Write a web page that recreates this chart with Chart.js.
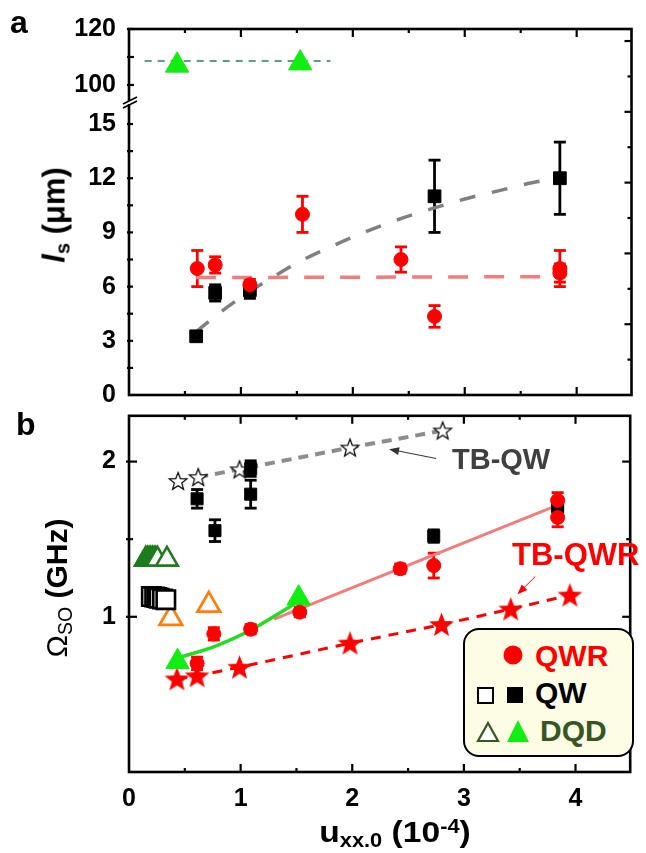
<!DOCTYPE html>
<html>
<head>
<meta charset="utf-8">
<title>l_s and Omega_SO vs u_xx,0</title>
<script src="https://cdn.jsdelivr.net/npm/chart.js@4.4.1/dist/chart.umd.min.js"></script>
<style>
  html, body { margin: 0; padding: 0; background: #fff; }
  #page { position: relative; width: 646px; height: 853px; overflow: hidden; font-family: "Liberation Sans", Arial, sans-serif; }
  canvas { position: absolute; left: 0; }
  #cA { top: 0; }
  #cB { top: 400px; }
  .t { position: absolute; font-weight: bold; white-space: nowrap; line-height: 1; }
  .t sub { font-size: 0.65em; line-height: 0; vertical-align: -0.25em; }
  .t sup { font-size: 0.65em; line-height: 0; vertical-align: 0.45em; }
  .rot { transform: translate(-50%, -50%) rotate(-90deg); }
  #legend { position: absolute; left: 463px; top: 628px; width: 171px; height: 129px; box-sizing: border-box;
            border: 2px solid #000; border-radius: 16px; background: #fdfde6; }
  #legSym { position: absolute; left: 463px; top: 628px; }
</style>
</head>
<body>
<div id="page">
  <canvas id="cA" width="646" height="420"></canvas>
  <canvas id="cB" width="646" height="453"></canvas>

  <div class="t" style="left:10px; top:6px; font-size:32px;">a</div>
  <div class="t" style="left:16px; top:408px; font-size:32px;">b</div>
  <div class="t rot" style="left:54px; top:215px; font-size:31px;"><i>l</i><sub>s</sub> (μm)</div>
  <div class="t rot" style="left:57px; top:588px; font-size:30px;"><span style="font-weight:normal">Ω<sub>SO</sub></span> (GHz)</div>
  <div class="t" style="left:395px; top:817px; font-size:30px; transform: translateX(-50%) scaleX(1.12);">u<sub>xx.0</sub> (10<sup>-4</sup>)</div>

  <div class="t" style="left:452px; top:445px; font-size:29px; color:#404040;">TB-QW</div>
  <div class="t" style="left:512px; top:539px; font-size:31px; color:#ff0000;">TB-QWR</div>

  <div id="legend"></div>
  <svg id="legSym" width="171" height="129">
    <circle cx="50" cy="27" r="9.5" fill="#ff0000"/>
    <rect x="15" y="60" width="15" height="15" fill="#fff" stroke="#000" stroke-width="2"/>
    <rect x="44" y="59" width="16" height="16" fill="#000"/>
    <polygon points="25,95 15,113 35,113" fill="#fff" stroke="#375623" stroke-width="2.2"/>
    <polygon points="55,92 44,114 66,114" fill="#11ee11"/>
  </svg>
  <div class="t" style="left:535px; top:641px; font-size:30px; color:#ff0000;">QWR</div>
  <div class="t" style="left:535px; top:678px; font-size:30px; color:#000;">QW</div>
  <div class="t" style="left:540px; top:716px; font-size:30px; color:#375623;">DQD</div>
</div>

<script>
// ---------- panel a : spin diffusion length l_s (um) ----------
var aQwrX   = [0.61, 0.77, 1.08, 1.55, 2.43, 2.73, 3.85, 3.85];
var aQwrY   = [7.0, 7.2, 6.1, 10.0, 7.5, 4.35, 7.0, 6.75];
var aQwrErr = [1.0, 0.45, 0.3, 1.0, 0.7, 0.6, 1.0, 0.5];

var aQwX    = [0.60, 0.77, 1.08, 2.73, 3.85];
var aQwY    = [3.25, 5.65, 5.8, 11.0, 12.0];
var aQwErr  = [0.2, 0.45, 0.45, 2.0, 2.0];

var aQwFitX = [0.6, 0.8, 1.0, 1.2, 1.5, 1.8, 2.1, 2.4, 2.7, 3.0, 3.3, 3.6, 3.85];
var aQwFitY = [3.5, 4.5, 5.4, 6.2, 7.3, 8.2, 9.0, 9.7, 10.3, 10.85, 11.3, 11.75, 12.05];

var aQwrFitX = [0.6, 3.85];
var aQwrFitY = [6.5, 6.55];

var aDqdX    = [0.43, 1.53];
var aDqdY    = [107.0, 107.8];
var aDqdFitX = [0.14, 1.8];
var aDqdFitY = [108.6, 108.6];

// ---------- panel b : Omega_SO (GHz) ----------
var bQwrX   = [0.61, 0.76, 1.09, 1.53, 2.43, 2.73, 3.84, 3.84];
var bQwrY   = [0.70, 0.89, 0.92, 1.03, 1.31, 1.33, 1.75, 1.64];
var bQwrErr = [0.04, 0.04, 0.03, 0.03, 0.03, 0.08, 0.05, 0.06];

var bQwX    = [0.61, 0.77, 1.09, 1.09, 2.73, 3.84];
var bQwY    = [1.76, 1.555, 1.955, 1.79, 1.52, 1.71];
var bQwErr  = [0.06, 0.07, 0.05, 0.09, 0.04, 0.04];

var bQwOpenX = [0.20, 0.23, 0.25, 0.27, 0.30, 0.33];
var bQwOpenY = [1.13, 1.128, 1.125, 1.12, 1.115, 1.11];

var bDqdX = [0.435, 1.52];
var bDqdY = [0.71, 1.12];

var bDqdOpenX = [0.15, 0.165, 0.18, 0.195, 0.21, 0.225, 0.24, 0.255, 0.34];
var bDqdOpenY = [1.37, 1.37, 1.37, 1.37, 1.37, 1.37, 1.37, 1.37, 1.37];

var bOrangeX = [0.375, 0.715];
var bOrangeY = [0.99, 1.075];

var bTbQwX = [0.44, 0.62, 0.99, 1.98, 2.81];
var bTbQwY = [1.875, 1.9, 1.95, 2.09, 2.2];
var bTbQwLineX = [0.62, 0.99, 1.98, 2.81];
var bTbQwLineY = [1.9, 1.95, 2.09, 2.2];

var bTbQwrX = [0.43, 0.61, 0.99, 1.98, 2.80, 3.42, 3.95];
var bTbQwrY = [0.60, 0.62, 0.675, 0.83, 0.95, 1.05, 1.14];

var bQwrFitX = [1.3, 3.84];
var bQwrFitY = [0.985, 1.72];

var bDqdFitX = [0.435, 0.77, 1.08, 1.43, 1.52];
var bDqdFitY = [0.735, 0.81, 0.91, 1.06, 1.10];

// ---------- axis ticks ----------
var xMarks  = [0, 0.5, 1, 1.5, 2, 2.5, 3, 3.5, 4];
var xLabels = [0, 1, 2, 3, 4];
var aTopMarks  = [100, 110, 120];
var aTopLabels = [100, 120];
var aBotMarks  = [0, 1.5, 3, 4.5, 6, 7.5, 9, 10.5, 12, 13.5, 15];
var aBotLabels = [0, 3, 6, 9, 12, 15];
var aRightMarks = [2, 4, 6, 8, 10, 12, 14, 16, 18, 20];
var bMarks  = [1, 1.5, 2];
var bLabels = [1, 2];

function pts(xs, ys) { return xs.map(function (x, i) { return {x: x, y: ys[i]}; }); }

var tickFont = {family: "'Liberation Sans', Arial, sans-serif", size: 25, weight: 'bold'};

function starCanvas(size, fill, stroke, lw) {
  var c = document.createElement('canvas');
  c.width = size; c.height = size;
  var g = c.getContext('2d');
  var R = size / 2 - lw - 0.5, r = R * 0.42, cx = size / 2, cy = size / 2 + R * 0.08;
  g.beginPath();
  for (var i = 0; i < 10; i++) {
    var a = -Math.PI / 2 + i * Math.PI / 5, rr = i % 2 ? r : R;
    g.lineTo(cx + rr * Math.cos(a), cy + rr * Math.sin(a));
  }
  g.closePath();
  g.fillStyle = fill; g.fill();
  if (stroke) { g.strokeStyle = stroke; g.lineWidth = lw; g.stroke(); }
  return c;
}
var starOpen = starCanvas(22, '#fff', '#000', 1.2);
var starRed = starCanvas(27, '#ff0000', null, 0);

function line(ctx, x1, y1, x2, y2) { ctx.beginPath(); ctx.moveTo(x1, y1); ctx.lineTo(x2, y2); ctx.stroke(); }

// error bars from dataset.errY, drawn under the markers
var errorBars = {
  id: 'errorBars',
  beforeDatasetsDraw: function (chart) {
    var ctx = chart.ctx;
    chart.data.datasets.forEach(function (ds, i) {
      if (!ds.errY) return;
      var meta = chart.getDatasetMeta(i);
      var ys = chart.scales[meta.yAxisID];
      ctx.save();
      ctx.strokeStyle = ds.backgroundColor;
      ctx.lineWidth = 2.8;
      meta.data.forEach(function (p, j) {
        var v = ds.data[j].y, e = ds.errY[j];
        var y1 = ys.getPixelForValue(v + e), y2 = ys.getPixelForValue(v - e);
        line(ctx, p.x, y1, p.x, y2);
        line(ctx, p.x - 6, y1, p.x + 6, y1);
        line(ctx, p.x - 6, y2, p.x + 6, y2);
      });
      ctx.restore();
    });
  }
};

function xTickMarks(ctx, chart) {
  var ca = chart.chartArea, sx = chart.scales.x;
  xMarks.forEach(function (v) {
    if (v === 0) return;
    var px = sx.getPixelForValue(v), L = (v % 1 === 0) ? 8 : 4;
    line(ctx, px, ca.top, px, ca.top + L);
    line(ctx, px, ca.bottom, px, ca.bottom - L);
  });
}

var frameA = {
  id: 'frameA',
  afterDraw: function (chart) {
    var ctx = chart.ctx, ca = chart.chartArea, s = chart.scales;
    ctx.save();
    ctx.strokeStyle = '#000';
    ctx.lineWidth = 2.6;
    ctx.strokeRect(ca.left, ca.top, ca.right - ca.left, ca.bottom - ca.top);
    ctx.lineWidth = 2.2;
    xTickMarks(ctx, chart);
    aTopMarks.forEach(function (v) {
      var py = s.yTop.getPixelForValue(v);
      line(ctx, ca.left - 2, py, ca.left + 5, py);
    });
    aBotMarks.forEach(function (v) {
      var py = s.yBot.getPixelForValue(v);
      if (v === 0) return;
      line(ctx, ca.left - 2, py, ca.left + 4, py);
    });
    aRightMarks.forEach(function (v) {
      var py = s.yR.getPixelForValue(v), L = (v % 4 === 0) ? 7 : 4;
      line(ctx, ca.right - L, py, ca.right, py);
    });
    // axis break between the two left scales
    var yb = s.yBot.top;
    ctx.fillStyle = '#fff';
    ctx.fillRect(ca.left - 3, yb + 1, 6, 3);
    ctx.lineWidth = 1.6;
    line(ctx, ca.left - 6, yb + 4, ca.left + 8, yb - 3);
    line(ctx, ca.left - 6, yb + 8, ca.left + 8, yb + 1);
    ctx.restore();
  }
};

// arrows for the TB labels, in data coordinates
var arrowsB = [
  {from: [2.75, 2.02], to: [2.33, 2.08], color: '#333333'},
  {from: [3.64, 1.26], to: [3.48, 1.145], color: '#ff0000'}
];

var frameB = {
  id: 'frameB',
  afterDraw: function (chart) {
    var ctx = chart.ctx, ca = chart.chartArea, s = chart.scales;
    ctx.save();
    ctx.strokeStyle = '#000';
    ctx.lineWidth = 2.6;
    ctx.strokeRect(ca.left, ca.top, ca.right - ca.left, ca.bottom - ca.top);
    ctx.lineWidth = 2.2;
    xTickMarks(ctx, chart);
    bMarks.forEach(function (v) {
      var py = s.y.getPixelForValue(v), L = bLabels.indexOf(v) >= 0 ? 8 : 4;
      line(ctx, ca.left - 3, py, ca.left + L, py);
      line(ctx, ca.right - L, py, ca.right, py);
    });
    arrowsB.forEach(function (a) {
      var x1 = s.x.getPixelForValue(a.from[0]), y1 = s.y.getPixelForValue(a.from[1]);
      var x2 = s.x.getPixelForValue(a.to[0]), y2 = s.y.getPixelForValue(a.to[1]);
      var ang = Math.atan2(y2 - y1, x2 - x1);
      ctx.strokeStyle = a.color; ctx.fillStyle = a.color; ctx.lineWidth = 1;
      line(ctx, x1, y1, x2 - 6 * Math.cos(ang), y2 - 6 * Math.sin(ang));
      ctx.beginPath();
      ctx.moveTo(x2, y2);
      ctx.lineTo(x2 - 10 * Math.cos(ang) + 4 * Math.sin(ang), y2 - 10 * Math.sin(ang) - 4 * Math.cos(ang));
      ctx.lineTo(x2 - 10 * Math.cos(ang) - 4 * Math.sin(ang), y2 - 10 * Math.sin(ang) + 4 * Math.cos(ang));
      ctx.closePath(); ctx.fill();
    });
    ctx.restore();
  }
};

function yLeft(marks, labels, extra) {
  var o = {
    position: 'left',
    afterBuildTicks: function (sc) { sc.ticks = marks.map(function (v) { return {value: v}; }); },
    afterFit: function (sc) { sc.width = 129; sc.paddingTop = 0; sc.paddingBottom = 0; },
    ticks: { autoSkip: false, font: tickFont, color: '#000', padding: 13,
             callback: function (v) { return labels.indexOf(v) >= 0 ? String(v) : ''; } },
    grid: { display: false, drawTicks: false },
    border: { display: false }
  };
  for (var k in extra) o[k] = extra[k];
  return o;
}

var common = {
  responsive: false,
  animation: false,
  devicePixelRatio: 1,
  plugins: { legend: { display: false }, tooltip: { enabled: false } }
};

// ---------- chart a ----------
new Chart(document.getElementById('cA'), {
  type: 'scatter',
  data: {
    datasets: [
      { data: pts(aQwrX, aQwrY), errY: aQwrErr, yAxisID: 'yBot', pointStyle: 'circle', pointRadius: 7,
        backgroundColor: '#ff0000', borderColor: '#ff0000', borderWidth: 1, order: 0 },
      { data: pts(aQwX, aQwY), errY: aQwErr, yAxisID: 'yBot', pointStyle: 'rect', pointRadius: 9,
        backgroundColor: '#000000', borderColor: '#000000', borderWidth: 1, order: 1 },
      { data: pts(aDqdX, aDqdY), yAxisID: 'yTop', pointStyle: 'triangle', pointRadius: 13.5,
        backgroundColor: '#11ee11', borderColor: '#11ee11', borderWidth: 1, order: 2 },
      { data: pts(aQwFitX, aQwFitY), yAxisID: 'yBot', showLine: true, pointRadius: 0,
        cubicInterpolationMode: 'monotone',
        borderColor: '#808080', borderWidth: 3.5, borderDash: [16, 17], order: 5 },
      { data: pts(aQwrFitX, aQwrFitY), yAxisID: 'yBot', showLine: true, pointRadius: 0,
        borderColor: '#f47c7c', borderWidth: 3.5, borderDash: [20, 16], order: 6 },
      { data: pts(aDqdFitX, aDqdFitY), yAxisID: 'yTop', showLine: true, pointRadius: 0,
        borderColor: '#2e7d5e', borderWidth: 1.5, borderDash: [7, 6], order: 7 }
    ]
  },
  options: Object.assign({}, common, {
    layout: { padding: { top: 29, right: 1, bottom: 25, left: 0 } },
    scales: {
      x: { type: 'linear', min: 0, max: 4.49, display: false },
      yBot: yLeft(aBotMarks, aBotLabels, { type: 'linear', min: 0, max: 16.33, stack: 'left', stackWeight: 295, weight: 0 }),
      yTop: yLeft(aTopMarks, aTopLabels, { type: 'linear', min: 94.64, max: 120, stack: 'left', stackWeight: 71, weight: 1 }),
      yR: { type: 'linear', position: 'right', min: 0, max: 20.68, display: false }
    }
  }),
  plugins: [errorBars, frameA]
});

// ---------- chart b ----------
new Chart(document.getElementById('cB'), {
  type: 'scatter',
  data: {
    datasets: [
      { data: pts(bQwrX, bQwrY), errY: bQwrErr, pointStyle: 'circle', pointRadius: 7,
        backgroundColor: '#ff0000', borderColor: '#ff0000', borderWidth: 1, order: 0 },
      { data: pts(bDqdX, bDqdY), pointStyle: 'triangle', pointRadius: 13.5,
        backgroundColor: '#11ee11', borderColor: '#11ee11', borderWidth: 1, order: 1 },
      { data: pts(bQwX, bQwY), errY: bQwErr, pointStyle: 'rect', pointRadius: 8.5,
        backgroundColor: '#000000', borderColor: '#000000', borderWidth: 1, order: 2 },
      { data: pts(bQwOpenX, bQwOpenY), pointStyle: 'rect', pointRadius: 13,
        backgroundColor: '#ffffff', borderColor: '#000000', borderWidth: 2.6, order: 3 },
      { data: pts(bDqdOpenX, bDqdOpenY), pointStyle: 'triangle', pointRadius: 12.5,
        backgroundColor: '#ffffff', borderColor: '#1e7b1e', borderWidth: 2.6, order: 4 },
      { data: pts(bOrangeX, bOrangeY), pointStyle: 'triangle', pointRadius: 13,
        backgroundColor: '#ffffff', borderColor: '#ff7f0e', borderWidth: 2.8, order: 5 },
      { data: pts(bTbQwX, bTbQwY), pointStyle: starOpen, pointRadius: 10, order: 6 },
      { data: pts(bTbQwrX, bTbQwrY), pointStyle: starRed, pointRadius: 12, order: 7 },
      { data: pts(bTbQwLineX, bTbQwLineY), showLine: true, pointRadius: 0,
        borderColor: '#8c8c8c', borderWidth: 4, borderDash: [10, 7], order: 10 },
      { data: pts(bTbQwrX, bTbQwrY), showLine: true, pointRadius: 0,
        borderColor: '#ff0000', borderWidth: 3, borderDash: [10, 8], order: 11 },
      { data: pts(bQwrFitX, bQwrFitY), showLine: true, pointRadius: 0,
        borderColor: '#f47c7c', borderWidth: 3, order: 12 },
      { data: pts(bDqdFitX, bDqdFitY), showLine: true, pointRadius: 0,
        cubicInterpolationMode: 'monotone',
        borderColor: '#22dd22', borderWidth: 3.5, order: 9 }
    ]
  },
  options: Object.assign({}, common, {
    layout: { padding: { top: 7, right: 1, bottom: 0, left: 0 } },
    scales: {
      x: { type: 'linear', min: 0, max: 4.49,
           afterBuildTicks: function (sc) { sc.ticks = xMarks.map(function (v) { return {value: v}; }); },
           afterFit: function (sc) { sc.height = 81; sc.paddingLeft = 0; sc.paddingRight = 0; },
           ticks: { autoSkip: false, maxRotation: 0, font: tickFont, color: '#000', padding: 12,
                    callback: function (v) { return xLabels.indexOf(v) >= 0 ? String(v) : ''; } },
           grid: { display: false, drawTicks: false },
           border: { display: false } },
      y: yLeft(bMarks, bLabels, { type: 'linear', min: 0, max: 2.295 })
    }
  }),
  plugins: [errorBars, frameB]
});
</script>
</body>
</html>
